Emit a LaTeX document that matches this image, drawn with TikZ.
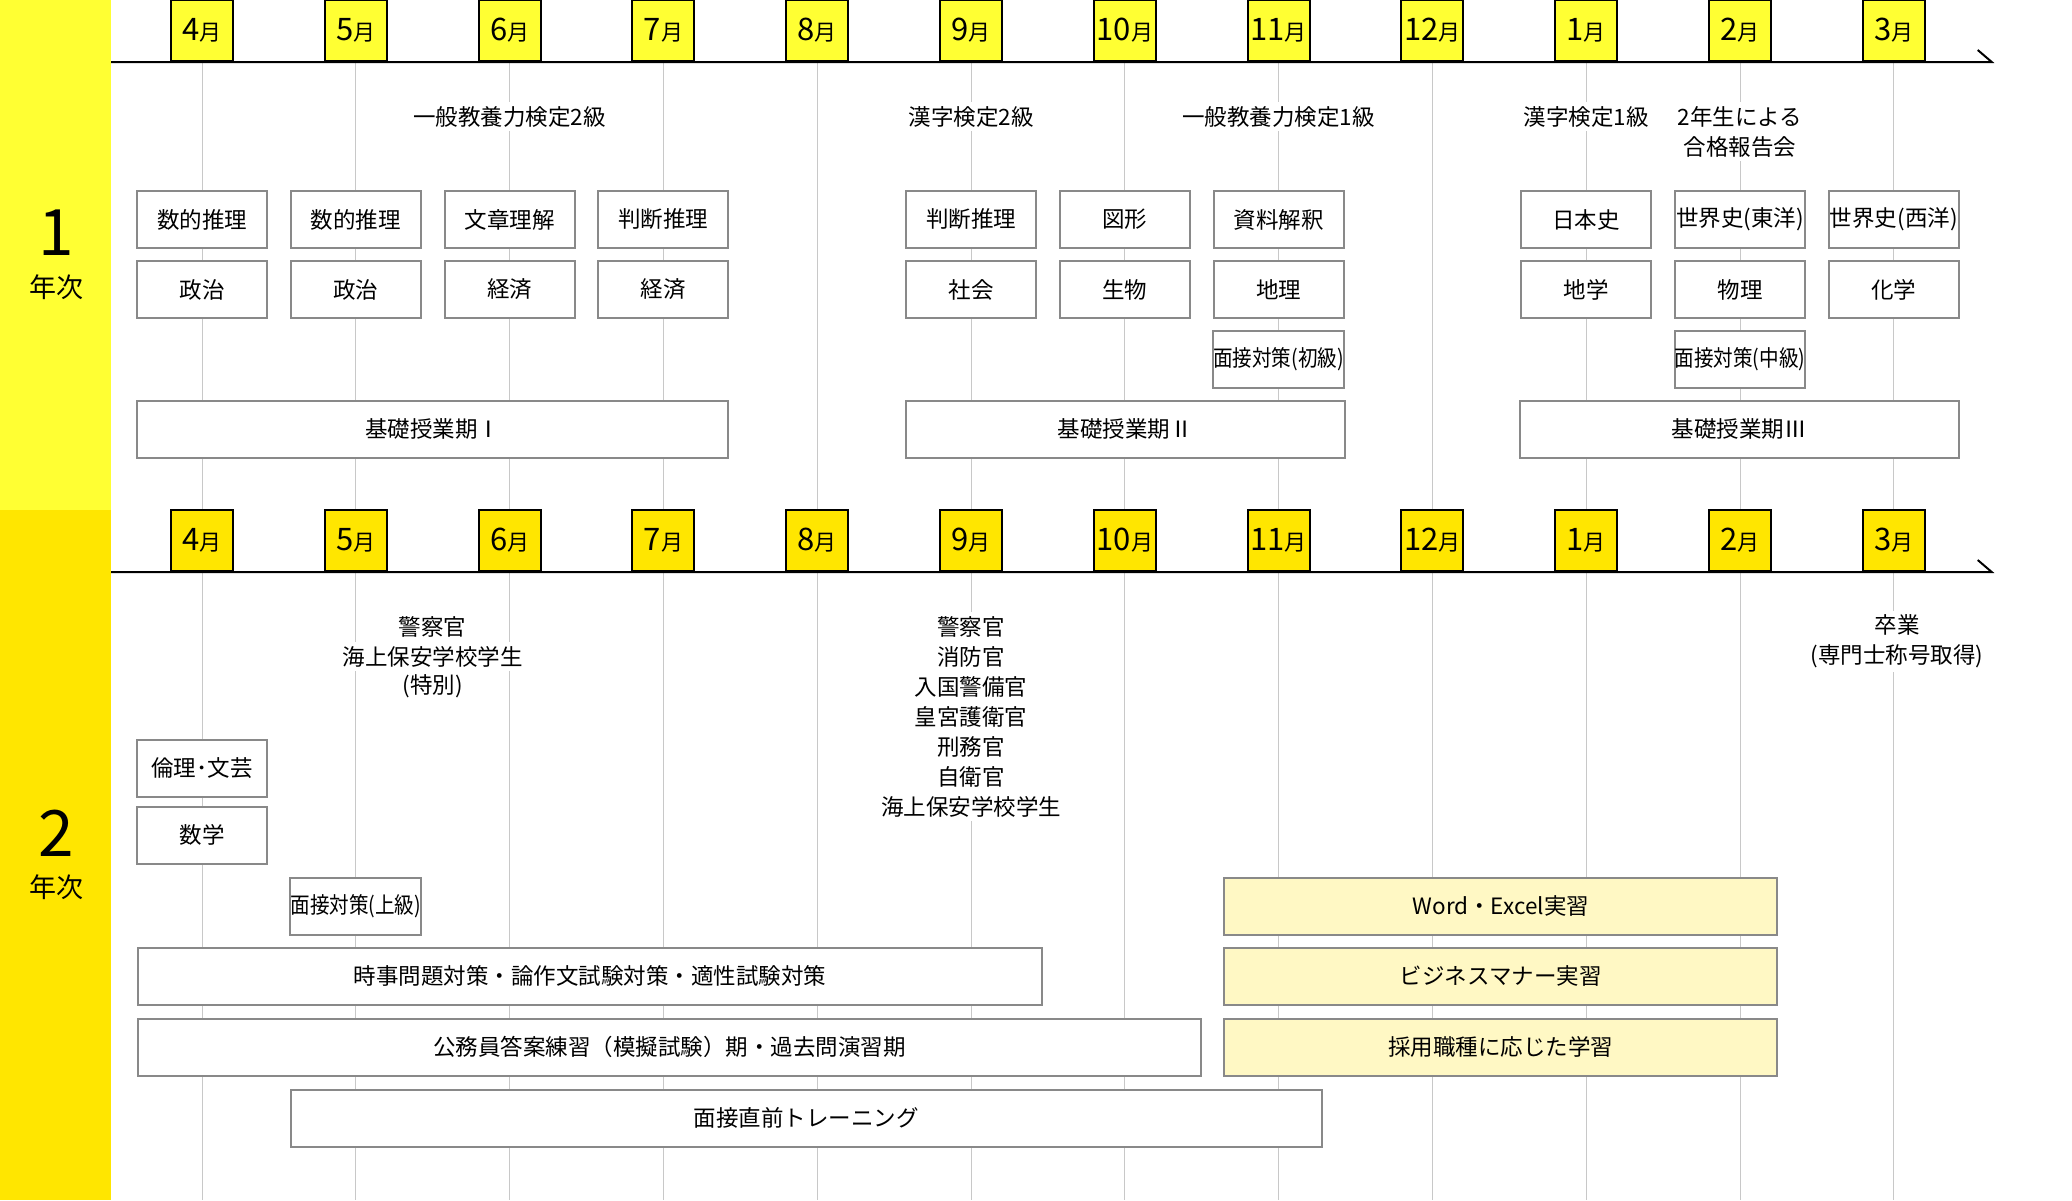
\documentclass[tikz,border=0pt]{standalone}
\usepackage{fontspec}
\setmainfont{Noto Sans CJK JP}
\usepackage{graphicx}
\usetikzlibrary{backgrounds}
\definecolor{bandA}{HTML}{FFFF33}
\definecolor{bandB}{HTML}{FFE600}
\definecolor{boxY}{HTML}{FFF8C4}
\definecolor{gridc}{HTML}{C8C8C8}
\definecolor{bordc}{HTML}{898989}
\newcommand\bodyf{\fontsize{22.5}{30}\selectfont}
\newcommand\mlabel[1]{\raisebox{-2pt}{{\fontsize{31}{31}\selectfont #1}{\fontsize{22}{22}\selectfont 月}}}
\newcommand\squeeze[1]{\scalebox{0.87}[1]{#1}}
\begin{document}
\begin{tikzpicture}[x=1pt,y=-1pt,
  monthbox/.style={draw=black,line width=2pt,fill=#1,minimum width=62pt,minimum height=61pt,inner sep=0pt,anchor=south},
  subj/.style={draw=bordc,line width=2pt,fill=white,minimum width=130pt,minimum height=57pt,inner sep=0pt,font=\bodyf},
  ybox/.style={subj,fill=boxY},
  note/.style={fill=white,inner xsep=4pt,inner ysep=4pt,font=\bodyf,align=center},
  bignum/.style={font=\fontsize{64}{64}\selectfont,inner sep=0pt},
  yeartxt/.style={font=\fontsize{27}{27}\selectfont,inner sep=0pt},
  gridl/.style={draw=gridc,line width=1pt},
  tline/.style={draw=black,line width=2pt},
]
\useasboundingbox (0,0) rectangle (2072,1200);

% timelines
\coordinate (t1s) at (111,62); \coordinate (t1e) at (1991.7,62); \coordinate (t1k) at (1977.7,50);
\coordinate (t2s) at (111,572); \coordinate (t2e) at (1991.7,572); \coordinate (t2k) at (1977.7,560);
\draw[tline] (t1s) -- (t1e) -- (t1k);
\draw[tline] (t2s) -- (t2e) -- (t2k);

% month boxes
\foreach \i/\m in {0/4,1/5,2/6,3/7,4/8,5/9,6/10,7/11,8/12,9/1,10/2,11/3}{
  \node[monthbox=bandA] (ma\i) at ({202+153.8*\i},62) {\mlabel{\m}};
  \node[monthbox=bandB] (mb\i) at ({202+153.8*\i},572) {\mlabel{\m}};
}

% year labels
\node[bignum] (y1num) at (56,233) {1};
\node[yeartxt] (y1txt) at (56,287) {年次};
\node[bignum] (y2num) at (56,833) {2};
\node[yeartxt] (y2txt) at (56,887) {年次};

% row coordinates year 1
\coordinate (r1) at (0,219.5);
\coordinate (r2) at (0,289.5);
\coordinate (r3) at (0,359.5);

% year 1 annotations
\node[note] (a1) at (ma2.south |- 0,116.7) {一般教養力検定2級};
\node[note] (a2) at (ma5.south |- 0,116.7) {漢字検定2級};
\node[note] (a3) at (ma7.south |- 0,116.7) {一般教養力検定1級};
\node[note] (a4) at (ma9.south |- 0,116.7) {漢字検定1級};
\node[note] (a5) at (ma10.south |- 0,131.7) {2年生による\\合格報告会};

% year 1 subjects
\node[subj] (s1a) at (ma0.south |- r1) {数的推理};
\node[subj] (s1b) at (ma1.south |- r1) {数的推理};
\node[subj] (s1c) at (ma2.south |- r1) {文章理解};
\node[subj] (s1d) at (ma3.south |- r1) {判断推理};
\node[subj] (s1e) at (ma5.south |- r1) {判断推理};
\node[subj] (s1f) at (ma6.south |- r1) {図形};
\node[subj] (s1g) at (ma7.south |- r1) {資料解釈};
\node[subj] (s1h) at (ma9.south |- r1) {日本史};
\node[subj] (s1i) at (ma10.south |- r1) {世界史(東洋)};
\node[subj] (s1j) at (ma11.south |- r1) {世界史(西洋)};

\node[subj] (s2a) at (ma0.south |- r2) {政治};
\node[subj] (s2b) at (ma1.south |- r2) {政治};
\node[subj] (s2c) at (ma2.south |- r2) {経済};
\node[subj] (s2d) at (ma3.south |- r2) {経済};
\node[subj] (s2e) at (ma5.south |- r2) {社会};
\node[subj] (s2f) at (ma6.south |- r2) {生物};
\node[subj] (s2g) at (ma7.south |- r2) {地理};
\node[subj] (s2h) at (ma9.south |- r2) {地学};
\node[subj] (s2i) at (ma10.south |- r2) {物理};
\node[subj] (s2j) at (ma11.south |- r2) {化学};

\node[subj] (s3g) at (ma7.south |- r3) {\squeeze{面接対策(初級)}};
\node[subj] (s3i) at (ma10.south |- r3) {\squeeze{面接対策(中級)}};

% base periods
\node[subj,minimum width=591pt] (k1) at (432.7,429) {基礎授業期Ⅰ};
\node[subj,minimum width=439pt] (k2) at (1125,429) {基礎授業期Ⅱ};
\node[subj,minimum width=439pt] (k3) at (1739,429) {基礎授業期Ⅲ};

% year 2 annotations
\node[note] (b1a) at (432.7,626.7) {警察官};
\node[note] (b1b) at (432.7,656.7) {海上保安学校学生};
\node[note] (b1c) at (432.7,686.7) {(特別)};
\node[note] (b2) at (mb5.south |- 0,716.7) {警察官\\消防官\\入国警備官\\皇宮護衛官\\刑務官\\自衛官\\海上保安学校学生};
\node[note] (b3) at (1897,641.7) {卒業\\(専門士称号取得)};

% year 2 boxes
\node[subj] (u1) at (mb0.south |- 0,768.2) {倫理･文芸};
\node[subj] (u2) at (mb0.south |- 0,835.4) {数学};
\node[subj] (u3) at (mb1.south |- 0,906.2) {\squeeze{面接対策(上級)}};
\node[subj,minimum width=904pt] (u4) at (590,976.4) {時事問題対策・論作文試験対策・適性試験対策};
\node[subj,minimum width=1063pt] (u5) at (669.4,1047.4) {公務員答案練習（模擬試験）期・過去問演習期};
\node[subj,minimum width=1031pt] (u6) at (806.2,1118.2) {面接直前トレーニング};
\node[ybox,minimum width=553pt] (w1) at (1500.8,906.2) {Word・Excel実習};
\node[ybox,minimum width=553pt] (w2) at (1500.8,976.4) {ビジネスマナー実習};
\node[ybox,minimum width=553pt] (w3) at (1500.8,1047.4) {採用職種に応じた学習};

\begin{scope}[on background layer]
  \fill[white] (0,0) rectangle (2072,1200);
  \fill[bandA] (0,0) rectangle (111,510);
  \fill[bandB] (0,510) rectangle (111,1200);
  \coordinate (ya) at (0,510);
  \coordinate (yb) at (0,1200);
  \foreach \i in {0,...,11}{
    \draw[gridl] (ma\i.south) -- (ma\i.south |- ya);
    \draw[gridl] (mb\i.south) -- (mb\i.south |- yb);
  }
\end{scope}
\end{tikzpicture}
\end{document}
